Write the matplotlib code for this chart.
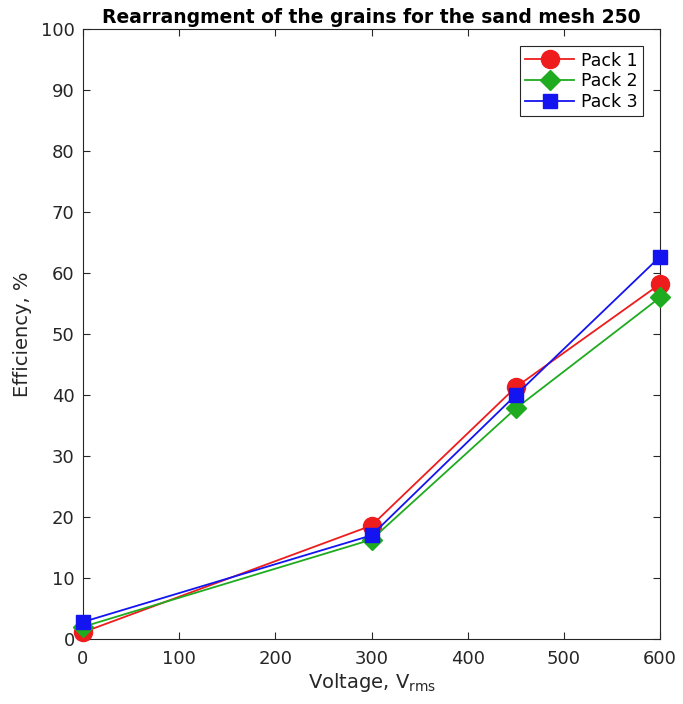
import matplotlib
matplotlib.use("Agg")
import matplotlib.pyplot as plt

voltage = [0, 300, 450, 600]
pack1 = [1.1, 18.6, 41.3, 58.2]
pack2 = [2.0, 16.3, 37.8, 56.0]
pack3 = [2.8, 17.0, 40.0, 62.7]
labels = ["Pack 1", "Pack 2", "Pack 3"]

fig = plt.figure(figsize=(6.83, 7.04), dpi=100)
ax = fig.add_axes([0.1215, 0.0923, 0.8450, 0.8665])

ax.plot(voltage, pack1, '-o', color='#ee1c1c', markersize=13, lw=1.3, label=labels[0], clip_on=False, zorder=3)
ax.plot(voltage, pack2, '-D', color='#1fab1f', markersize=10, lw=1.3, label=labels[1], clip_on=False, zorder=4)
ax.plot(voltage, pack3, '-s', color='#1414f0', markersize=10, lw=1.3, label=labels[2], clip_on=False, zorder=5)

ax.set_xlim(0, 600)
ax.set_ylim(0, 100)
ax.set_xticks(range(0, 601, 100))
ax.set_yticks(range(0, 101, 10))
ax.tick_params(direction='in', top=True, right=True, labelsize=13, colors='#262626', length=5)
ax.tick_params(axis='x', pad=8)
ax.tick_params(axis='y', pad=6)
for s in ax.spines.values():
    s.set_color('#262626')
    s.set_linewidth(0.8)
ax.set_xlabel(r"Voltage, V$_{\mathrm{rms}}$", fontsize=14, color='#262626', labelpad=2)
ax.set_ylabel("Efficiency, %", fontsize=14, color='#262626', labelpad=6)
ax.set_title("Rearrangment of the grains for the sand mesh 250", fontsize=13.5, fontweight='bold', pad=4)
leg = ax.legend(loc='upper right', fontsize=12.5, fancybox=False, edgecolor='#262626', framealpha=1,
                handlelength=2.8, borderpad=0.3, labelspacing=0.15, handletextpad=0.4,
                borderaxespad=1.0)
leg.get_frame().set_linewidth(0.8)

fig.savefig("out.png", dpi=100)
